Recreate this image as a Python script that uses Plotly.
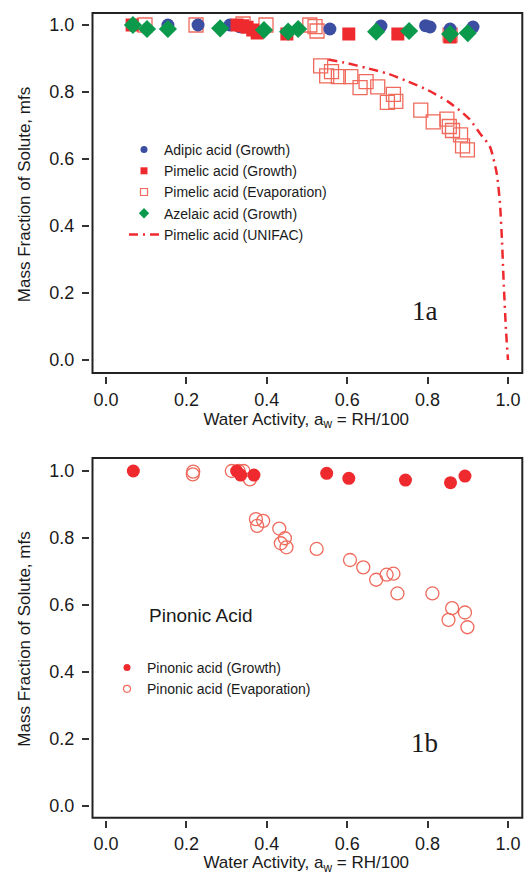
import plotly.graph_objects as go

# ---------------- data: panel 1a ----------------
adipic_aw = [0.154, 0.229, 0.308, 0.333, 0.557, 0.684, 0.795, 0.806, 0.856, 0.913]
adipic_mfs = [1.000, 1.000, 1.000, 0.995, 0.988, 0.997, 0.998, 0.994, 0.988, 0.994]

pimelic_g_aw = [0.065, 0.326, 0.340, 0.351, 0.365, 0.376, 0.450, 0.604, 0.726, 0.856]
pimelic_g_mfs = [1.000, 1.000, 0.998, 0.993, 0.985, 0.976, 0.973, 0.973, 0.973, 0.964]

pimelic_e_aw = [0.097, 0.224, 0.341, 0.398, 0.507, 0.520, 0.525, 0.856,
                0.534, 0.549, 0.561, 0.578, 0.609, 0.632, 0.647, 0.676, 0.700,
                0.715, 0.721, 0.783, 0.814, 0.848, 0.854, 0.862, 0.882, 0.887, 0.899]
pimelic_e_mfs = [1.000, 1.000, 1.003, 1.000, 1.000, 0.995, 0.982, 0.970,
                 0.878, 0.848, 0.861, 0.846, 0.846, 0.813, 0.831, 0.815, 0.769,
                 0.793, 0.772, 0.746, 0.711, 0.719, 0.697, 0.685, 0.672, 0.639, 0.627]

azelaic_aw = [0.067, 0.102, 0.154, 0.284, 0.393, 0.453, 0.478, 0.672, 0.754, 0.856, 0.900]
azelaic_mfs = [1.000, 0.988, 0.988, 0.990, 0.985, 0.980, 0.988, 0.980, 0.982, 0.973, 0.976]

unifac_aw = [0.553, 0.600, 0.650, 0.700, 0.750, 0.800, 0.850, 0.880, 0.905, 0.930,
             0.955, 0.972, 0.980, 0.985, 0.989, 0.995, 1.000]
unifac_mfs = [0.897, 0.886, 0.871, 0.855, 0.832, 0.806, 0.772, 0.745, 0.718, 0.677,
              0.637, 0.557, 0.468, 0.358, 0.239, 0.090, 0.000]

# ---------------- data: panel 1b ----------------
pinonic_g_aw = [0.068, 0.325, 0.335, 0.368, 0.549, 0.604, 0.745, 0.857, 0.893]
pinonic_g_mfs = [1.000, 1.000, 0.988, 0.988, 0.993, 0.978, 0.973, 0.965, 0.985]

pinonic_e_aw = [0.217, 0.216, 0.313, 0.330, 0.342, 0.358, 0.373, 0.391, 0.376, 0.431,
                0.445, 0.435, 0.449, 0.524, 0.607, 0.640, 0.672, 0.698, 0.715, 0.725,
                0.812, 0.861, 0.893, 0.852, 0.899]
pinonic_e_mfs = [0.998, 0.990, 1.000, 1.000, 1.000, 0.975, 0.856, 0.851, 0.836, 0.828,
                 0.799, 0.784, 0.772, 0.767, 0.734, 0.712, 0.675, 0.690, 0.693, 0.634,
                 0.634, 0.590, 0.577, 0.555, 0.533]

tick_vals = [0.0, 0.2, 0.4, 0.6, 0.8, 1.0]
tick_text = ["0.0", "0.2", "0.4", "0.6", "0.8", "1.0"]

# ---------------- styling ----------------
W, H = 525, 875
BLUE = "#3B4EA2"
RED = "#EE2A2F"
OPEN = "#F06A5C"
GREEN = "#0B9A4C"
INK = "#1a1a1a"
FONT = "Liberation Sans, Arial, sans-serif"


def px(p):
    return p / W


def py(p):
    return 1 - p / H


fig = go.Figure()

# ---- panel 1a data traces ----
fig.add_trace(go.Scatter(x=pimelic_e_aw, y=pimelic_e_mfs, mode="markers", showlegend=False,
                         marker=dict(symbol="square-open", size=14, color=OPEN, line=dict(width=1.3, color=OPEN)),
                         xaxis="x", yaxis="y"))
fig.add_trace(go.Scatter(x=adipic_aw, y=adipic_mfs, mode="markers", showlegend=False,
                         marker=dict(symbol="circle", size=13, color=BLUE, line=dict(width=0)),
                         xaxis="x", yaxis="y"))
fig.add_trace(go.Scatter(x=pimelic_g_aw, y=pimelic_g_mfs, mode="markers", showlegend=False,
                         marker=dict(symbol="square", size=13, color=RED, line=dict(width=0)),
                         xaxis="x", yaxis="y"))
fig.add_trace(go.Scatter(x=azelaic_aw, y=azelaic_mfs, mode="markers", showlegend=False,
                         marker=dict(symbol="diamond", size=14, color=GREEN, line=dict(width=0)),
                         xaxis="x", yaxis="y"))

# legend entries (no marks drawn) with small symbols like the reference
fig.add_trace(go.Scatter(x=[None], y=[None], mode="markers", name="Adipic acid (Growth)",
                         marker=dict(symbol="circle", size=7, color=BLUE), legend="legend",
                         xaxis="x", yaxis="y"))
fig.add_trace(go.Scatter(x=[None], y=[None], mode="markers", name="Pimelic acid (Growth)",
                         marker=dict(symbol="square", size=7, color=RED), legend="legend",
                         xaxis="x", yaxis="y"))
fig.add_trace(go.Scatter(x=[None], y=[None], mode="markers", name="Pimelic acid (Evaporation)",
                         marker=dict(symbol="square-open", size=7, color=OPEN, line=dict(width=1.2, color=OPEN)),
                         legend="legend", xaxis="x", yaxis="y"))
fig.add_trace(go.Scatter(x=[None], y=[None], mode="markers", name="Azelaic acid (Growth)",
                         marker=dict(symbol="diamond", size=8, color=GREEN), legend="legend",
                         xaxis="x", yaxis="y"))
fig.add_trace(go.Scatter(x=unifac_aw, y=unifac_mfs, mode="lines", name="Pimelic acid (UNIFAC)",
                         line=dict(color=RED, width=2.5, dash="9px,5px,2px,5px", shape="spline", smoothing=0.6),
                         legend="legend", xaxis="x", yaxis="y"))

# ---- panel 1b ----
fig.add_trace(go.Scatter(x=pinonic_e_aw, y=pinonic_e_mfs, mode="markers", showlegend=False,
                         marker=dict(symbol="circle-open", size=13, color=OPEN, line=dict(width=1.3, color=OPEN)),
                         xaxis="x2", yaxis="y2"))
fig.add_trace(go.Scatter(x=pinonic_g_aw, y=pinonic_g_mfs, mode="markers", showlegend=False,
                         marker=dict(symbol="circle", size=13, color=RED, line=dict(width=0)),
                         xaxis="x2", yaxis="y2"))
fig.add_trace(go.Scatter(x=[None], y=[None], mode="markers", name="Pinonic acid (Growth)",
                         marker=dict(symbol="circle", size=7, color=RED), legend="legend2",
                         xaxis="x2", yaxis="y2"))
fig.add_trace(go.Scatter(x=[None], y=[None], mode="markers", name="Pinonic acid (Evaporation)",
                         marker=dict(symbol="circle-open", size=7, color=OPEN, line=dict(width=1.2, color=OPEN)),
                         legend="legend2", xaxis="x2", yaxis="y2"))

axis_common = dict(
    tickmode="array", tickvals=tick_vals, ticktext=tick_text,
    ticks="outside", ticklen=7, tickwidth=1.5, tickcolor="#333333",
    showline=False, showgrid=False, zeroline=False, automargin=False,
    tickfont=dict(family=FONT, size=18, color=INK),
)

xtitle = dict(text="Water Activity, a<sub>w</sub> = RH/100", font=dict(family=FONT, size=17, color=INK), standoff=3)
ytitle = dict(text="Mass Fraction of Solute, mfs", font=dict(family=FONT, size=17, color=INK), standoff=14)

top_dom = [py(376), py(13)]
bot_dom = [py(820), py(458)]
x_dom = [px(90), px(522.5)]

fig.update_layout(
    width=W, height=H,
    margin=dict(l=0, r=0, t=0, b=0),
    paper_bgcolor="white", plot_bgcolor="white",
    font=dict(family=FONT, color=INK),
    xaxis=dict(domain=x_dom, range=[-0.0398, 1.0361], anchor="y", title=xtitle, **axis_common),
    yaxis=dict(domain=top_dom, range=[-0.0478, 1.0358], anchor="x", title=ytitle,
               ticklabelstandoff=4, **axis_common),
    xaxis2=dict(domain=x_dom, range=[-0.0398, 1.0361], anchor="y2", title=xtitle, **axis_common),
    yaxis2=dict(domain=bot_dom, range=[-0.0433, 1.0389], anchor="x2", title=ytitle,
                ticklabelstandoff=4, **axis_common),
    legend=dict(x=px(124), y=py(134), xanchor="left", yanchor="top", bgcolor="rgba(0,0,0,0)",
                font=dict(family=FONT, size=14, color=INK), tracegroupgap=0),
    legend2=dict(x=px(107), y=py(652), xanchor="left", yanchor="top", bgcolor="rgba(0,0,0,0)",
                 font=dict(family=FONT, size=14, color=INK), tracegroupgap=0),
    shapes=[
        dict(type="rect", xref="paper", yref="paper", x0=px(92.5), x1=px(522.3), y0=py(373), y1=py(13),
             line=dict(color="#222222", width=2), fillcolor="rgba(0,0,0,0)", layer="above"),
        dict(type="rect", xref="paper", yref="paper", x0=px(92.5), x1=px(522.3), y0=py(817.7), y1=py(458),
             line=dict(color="#222222", width=2), fillcolor="rgba(0,0,0,0)", layer="above"),
    ],
    annotations=[
        dict(text="1a", x=px(440), y=py(311), xref="paper", yref="paper", showarrow=False,
             font=dict(family="Liberation Serif, Times New Roman, serif", size=27, color=INK)),
        dict(text="1b", x=px(440), y=py(760), xref="paper", yref="paper", showarrow=False,
             font=dict(family="Liberation Serif, Times New Roman, serif", size=27, color=INK)),
        dict(text="Pinonic Acid", x=px(200.5), y=py(628), xref="paper", yref="paper", showarrow=False,
             font=dict(family=FONT, size=19, color=INK)),
    ],
)

fig.write_html("out.html")
